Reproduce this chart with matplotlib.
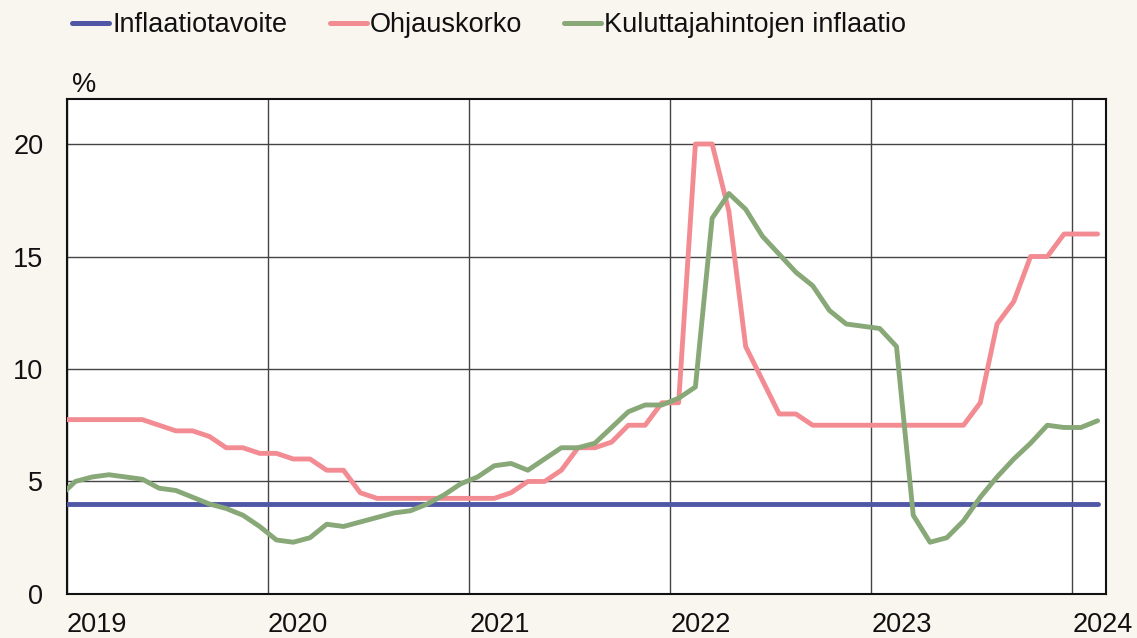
import numpy as np
import pandas as pd
import matplotlib
matplotlib.use("Agg")
from matplotlib import pyplot as plt
from matplotlib.lines import Line2D

plt.rcParams['font.family'] = ['Liberation Sans', 'DejaVu Sans']

# kuukausittaiset arvot, joulukuu 2018 - helmikuu 2024
months = pd.period_range('2018-12', '2024-02', freq='M')

target = [4.0] * len(months)

key_rate = [7.75,
            7.75, 7.75, 7.75, 7.75, 7.75, 7.5, 7.25, 7.25, 7.0, 6.5, 6.5, 6.25,
            6.25, 6.0, 6.0, 5.5, 5.5, 4.5, 4.25, 4.25, 4.25, 4.25, 4.25, 4.25,
            4.25, 4.25, 4.5, 5.0, 5.0, 5.5, 6.5, 6.5, 6.75, 7.5, 7.5, 8.5,
            8.5, 20.0, 20.0, 17.0, 11.0, 9.5, 8.0, 8.0, 7.5, 7.5, 7.5, 7.5,
            7.5, 7.5, 7.5, 7.5, 7.5, 7.5, 8.5, 12.0, 13.0, 15.0, 15.0, 16.0,
            16.0, 16.0]

inflation = [4.3,
             5.0, 5.2, 5.3, 5.2, 5.1, 4.7, 4.6, 4.3, 4.0, 3.8, 3.5, 3.0,
             2.4, 2.3, 2.5, 3.1, 3.0, 3.2, 3.4, 3.6, 3.7, 4.0, 4.4, 4.9,
             5.2, 5.7, 5.8, 5.5, 6.0, 6.5, 6.5, 6.7, 7.4, 8.1, 8.4, 8.4,
             8.7, 9.2, 16.7, 17.8, 17.1, 15.9, 15.1, 14.3, 13.7, 12.6, 12.0, 11.9,
             11.8, 11.0, 3.5, 2.3, 2.5, 3.25, 4.3, 5.2, 6.0, 6.7, 7.5, 7.4,
             7.4, 7.7]

years = [2019, 2020, 2021, 2022, 2023, 2024]
labels = ['Inflaatiotavoite', 'Ohjauskorko', 'Kuluttajahintojen inflaatio']
colors = ['#5058a6', '#f28c92', '#88a878']

# kuukauden keskikohta, 0 = tammikuun 2019 alku
x = np.array([(m.year - 2019) * 12 + m.month - 1 + 0.5 for m in months])

bg = '#f9f5ef'
W, H = 1137, 638
fig = plt.figure(figsize=(W / 100, H / 100), dpi=100, facecolor=bg)
ax = fig.add_axes([0.0589, 0.069, 0.9138, 0.7758])
ax.set_facecolor('white')

for series, lab, col in zip([target, key_rate, inflation], labels, colors):
    ax.plot(x, series, color=col, lw=3.5, label=lab, solid_joinstyle='round',
            solid_capstyle='round', zorder=3)

ax.set_xlim(0, 62)
ax.set_ylim(0, 22)
ax.set_yticks([0, 5, 10, 15, 20])
ax.set_xticks([(y - 2019) * 12 for y in years])
ax.set_xticklabels([str(y) for y in years], ha='left')
ax.tick_params(axis='both', length=0, labelsize=19.5, colors='#111111')
ax.tick_params(axis='y', pad=17)
ax.tick_params(axis='x', pad=13)
ax.grid(True, color='#444444', lw=1.0, zorder=1)
for s in ax.spines.values():
    s.set_linewidth(1.5)
    s.set_color('#111111')

fig.text(72 / W, 1 - 92 / H, '%', fontsize=19.5, color='#111111', va='baseline')

# selite: kolme erillistä kohtaa kuten alkuperäisessä
legend_x = [72, 330, 564]
for lab, col, lx in zip(labels, colors, legend_x):
    h = Line2D([], [], color=col, lw=3.6, solid_capstyle='round')
    fig.legend([h], [lab], loc='center left', bbox_to_anchor=(lx / W, 1 - 25 / H),
               frameon=False, fontsize=19.5, handlelength=1.37, handletextpad=0.11,
               borderpad=0, borderaxespad=0, labelcolor='#111111')

fig.savefig('out.png', dpi=100, facecolor=bg)
